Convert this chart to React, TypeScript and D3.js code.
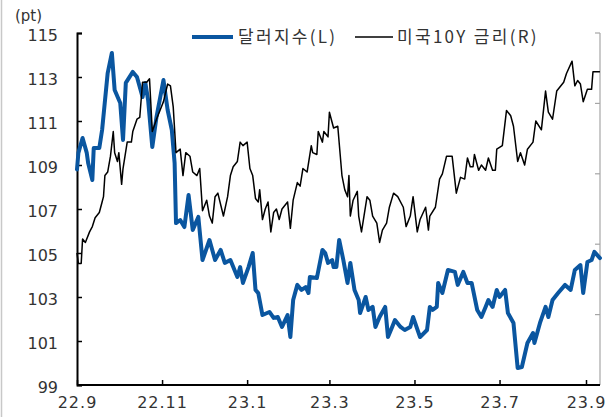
import React, { useEffect, useRef } from "react";
import * as d3 from "d3";

// days since 2022-09-01 and index values (dollar index, left axis)
const dollarDays = [
  0, 1, 4, 7, 8, 11, 12, 16, 18, 22, 25, 27, 31, 33, 35, 40, 43, 47, 49, 51, 54, 57, 62, 65, 68, 70,
  71, 74, 77, 80, 83, 87, 90, 95, 99, 103, 106, 110, 115, 117, 119, 123, 126, 128, 130, 133, 138,
  141, 144, 147, 151, 153, 155, 158, 161, 164, 166, 167, 172, 176, 178, 180, 183, 184, 186, 188, 191,
  194, 196, 199, 202, 203, 207, 209, 212, 214, 217, 221, 223, 226, 228, 232, 235, 239, 241, 245, 246,
  251, 253, 255, 258, 259, 262, 266, 271, 273, 277, 280, 283, 287, 290, 293, 295, 298, 301, 303, 307,
  309, 313, 316, 319, 323, 327, 328, 332, 336, 338, 341, 345, 350, 354, 357, 361, 363, 366, 369, 371,
  375,
];
const dollarValues = [
  108.8, 109.55, 110.23, 109.55, 109.09, 108.32, 109.77, 109.77, 110.59, 113.18, 114.09, 112.41,
  111.82, 110.14, 112.73, 113.23, 113.0, 112.09, 112.73, 111.95, 109.82, 111.18, 112.86, 111.5,
  110.59, 109.09, 106.36, 106.5, 106.18, 107.64, 106.05, 106.64, 104.68, 105.59, 104.68, 105.14,
  104.55, 104.68, 103.91, 104.36, 103.64, 104.36, 105.0, 103.32, 103.18, 102.18, 102.32, 102.05,
  102.09, 101.64, 102.18, 101.18, 102.86, 103.55, 103.32, 103.45, 103.18, 103.91, 103.86, 105.14,
  105.0, 104.55, 104.68, 104.36, 104.36, 105.59, 104.68, 103.64, 104.55, 103.32, 102.86, 102.27,
  103.0, 102.41, 102.55, 101.64, 102.09, 102.55, 101.18, 101.64, 101.95, 101.64, 101.5, 101.64,
  102.09, 101.36, 101.18, 101.5, 102.55, 102.41, 102.55, 103.64, 103.18, 104.23, 104.14, 103.55,
  104.14, 103.64, 103.64, 102.41, 102.09, 102.55, 102.86, 102.55, 103.32, 103.0, 103.32, 102.27,
  101.82, 99.77, 99.82, 100.91, 101.36, 100.91, 101.82, 102.55, 102.09, 102.86, 103.18, 103.55,
  103.32, 104.23, 104.45, 103.18, 104.59, 104.68, 105.05, 104.77,
];

// days since 2022-09-01 and US 10Y yield (right axis)
const rateDays = [
  0, 1, 3, 4, 6, 9, 11, 13, 16, 18, 19, 20, 22, 24, 26, 27, 29, 30, 32, 33, 36, 39, 40, 43, 45, 47,
  50, 52, 54, 57, 60, 62, 65, 67, 69, 71, 74, 76, 78, 81, 83, 86, 88, 90, 93, 95, 97, 99, 101, 105,
  108, 110, 112, 115, 117, 119, 122, 124, 126, 128, 130, 131, 133, 135, 137, 139, 141, 143, 145, 147,
  151, 153, 155, 158, 160, 162, 165, 168, 169, 172, 173, 176, 177, 180, 181, 184, 187, 190, 192, 194,
  195, 196, 198, 201, 202, 204, 208, 210, 212, 215, 217, 219, 222, 224, 227, 230, 234, 236, 239, 241,
  244, 246, 250, 252, 253, 257, 260, 262, 265, 269, 272, 275, 278, 280, 282, 284, 285, 288, 290, 293,
  295, 298, 300, 301, 305, 308, 311, 313, 316, 318, 321, 323, 327, 329, 333, 336, 338, 341, 344, 349,
  351, 355, 357, 359, 361, 363, 366, 369, 370, 375,
];
const rateValues = [
  3.25, 3.19, 3.19, 3.33, 3.31, 3.37, 3.4, 3.45, 3.48, 3.54, 3.57, 3.69, 3.71, 3.8, 3.94, 3.82, 3.77,
  3.82, 3.64, 3.73, 3.88, 3.88, 3.94, 4.01, 4.02, 4.22, 4.22, 4.24, 3.94, 4.01, 4.07, 4.11, 4.21, 4.2,
  4.08, 3.82, 3.84, 3.69, 3.82, 3.8, 3.71, 3.69, 3.73, 3.49, 3.55, 3.46, 3.42, 3.57, 3.59, 3.46, 3.57,
  3.69, 3.74, 3.77, 3.88, 3.86, 3.88, 3.73, 3.69, 3.56, 3.54, 3.61, 3.44, 3.5, 3.54, 3.37, 3.48, 3.5,
  3.44, 3.5, 3.54, 3.39, 3.55, 3.65, 3.63, 3.73, 3.71, 3.86, 3.82, 3.81, 3.94, 3.88, 3.94, 3.91, 4.05,
  3.96, 3.97, 3.69, 3.61, 3.57, 3.69, 3.46, 3.55, 3.6, 3.46, 3.37, 3.57, 3.55, 3.46, 3.42, 3.31, 3.38,
  3.42, 3.51, 3.59, 3.57, 3.51, 3.4, 3.46, 3.57, 3.37, 3.44, 3.51, 3.38, 3.46, 3.51, 3.67, 3.7, 3.8,
  3.8, 3.59, 3.68, 3.67, 3.79, 3.74, 3.74, 3.81, 3.72, 3.75, 3.72, 3.79, 3.72, 3.72, 3.84, 3.86, 4.06,
  4.03, 3.97, 3.77, 3.82, 3.75, 3.84, 3.88, 4.0, 3.95, 4.17, 4.05, 4.01, 4.17, 4.22, 4.27, 4.34, 4.2,
  4.23, 4.21, 4.11, 4.18, 4.18, 4.28, 4.28,
];

const leftTicks = [99, 101, 103, 105, 107, 109, 111, 113, 115];
// right-axis labels fall outside the picture, only the tick marks show
const rightTicks = [2.5, 2.9, 3.3, 3.7, 4.1, 4.5];
const monthTicks = ["2022-09-01", "2022-11-01", "2023-01-01", "2023-03-01", "2023-05-01", "2023-07-01", "2023-09-01"];
const seriesNames = ["달러지수(L)", "미국10Y 금리(R)"];

const W = 607;
const H = 417;
const NUM_FONT = "'DejaVu Sans', sans-serif";
const KR_FONT = "'Noto Sans CJK KR', sans-serif";

const App: React.FC = () => {
  const svgRef = useRef<SVGSVGElement>(null);

  useEffect(() => {
    if (!svgRef.current) return;
    const svg = d3.select(svgRef.current);
    svg.selectAll("*").remove();

    const left = 77;
    const right = 600;
    const top = 33;
    const bottom = 385;

    const start = new Date(2022, 8, 1);
    const parse = d3.timeParse("%Y-%m-%d");
    const x = d3
      .scaleTime()
      .domain([start, new Date(2023, 8, 1)])
      .range([left, 586]);
    const yL = d3.scaleLinear().domain([99, 115]).range([bottom, top]);
    const yR = d3.scaleLinear().domain([2.5, 4.5]).range([bottom, top]);

    const dollar = dollarDays.map((d, i) => ({ date: d3.timeDay.offset(start, d), value: dollarValues[i] }));
    const rate = rateDays.map((d, i) => ({ date: d3.timeDay.offset(start, d), value: rateValues[i] }));

    // frame line on the left edge
    svg.append("line").attr("x1", 1.5).attr("x2", 1.5).attr("y1", 0).attr("y2", H)
      .attr("stroke", "#c8c8c8").attr("stroke-width", 1.5);

    // right axis (gray)
    svg.append("line").attr("x1", right).attr("x2", right).attr("y1", top).attr("y2", bottom)
      .attr("stroke", "#a6a6a6").attr("stroke-width", 1.2);
    svg.append("g").selectAll("line").data(rightTicks).join("line")
      .attr("x1", right - 5).attr("x2", right)
      .attr("y1", (d) => yR(d)).attr("y2", (d) => yR(d))
      .attr("stroke", "#a6a6a6").attr("stroke-width", 1.2);

    // left axis
    const gL = svg.append("g").attr("transform", `translate(${left},0)`)
      .call(d3.axisLeft(yL).tickValues(leftTicks).tickSize(-5).tickSizeOuter(-5).tickPadding(19));
    gL.select(".domain").attr("stroke", "#000").attr("stroke-width", 2);
    gL.selectAll(".tick line").attr("stroke", "#000").attr("stroke-width", 1.5);
    gL.selectAll(".tick text").attr("font-family", NUM_FONT).attr("font-size", 16)
      .attr("dy", "0.45em").attr("fill", "#333");

    // bottom axis
    const gB = svg.append("g").attr("transform", `translate(0,${bottom})`)
      .call(
        d3.axisBottom(x)
          .tickValues(monthTicks.map((s) => parse(s) as Date))
          .tickFormat((d) => d3.timeFormat("%y")(d as Date) + "." + ((d as Date).getMonth() + 1))
          .tickSize(-5)
          .tickSizeOuter(0)
          .tickPadding(12)
      );
    gB.select(".domain").attr("stroke", "#000").attr("stroke-width", 2)
      .attr("d", `M${left},0H${right}`);
    gB.selectAll(".tick line").attr("stroke", "#000").attr("stroke-width", 1.5);
    gB.selectAll(".tick text").attr("font-family", NUM_FONT).attr("font-size", 16)
      .attr("letter-spacing", 1).attr("fill", "#333");

    svg.append("text").attr("x", 15).attr("y", 21)
      .attr("font-family", NUM_FONT).attr("font-size", 15).attr("fill", "#333").text("(pt)");

    const lineL = d3.line<{ date: Date; value: number }>()
      .x((d) => x(d.date)).y((d) => yL(d.value));
    const lineR = d3.line<{ date: Date; value: number }>()
      .x((d) => x(d.date)).y((d) => yR(d.value));

    svg.append("path").datum(dollar).attr("d", lineL)
      .attr("fill", "none").attr("stroke", "#0a56a0").attr("stroke-width", 4)
      .attr("stroke-linejoin", "round").attr("stroke-linecap", "round");
    svg.append("path").datum(rate).attr("d", lineR)
      .attr("fill", "none").attr("stroke", "#000").attr("stroke-width", 1.5)
      .attr("stroke-linejoin", "round");

    // legend
    const lg = svg.append("g").attr("font-family", KR_FONT).attr("font-size", 17)
      .attr("letter-spacing", 2.3).attr("fill", "#333");
    lg.append("line").attr("x1", 192).attr("x2", 233).attr("y1", 37).attr("y2", 37)
      .attr("stroke", "#0a56a0").attr("stroke-width", 4);
    lg.append("text").attr("x", 238).attr("y", 37).attr("dy", "0.35em").text(seriesNames[0]);
    lg.append("line").attr("x1", 355).attr("x2", 393).attr("y1", 37).attr("y2", 37)
      .attr("stroke", "#000").attr("stroke-width", 1.5);
    lg.append("text").attr("x", 397).attr("y", 37).attr("dy", "0.35em").text(seriesNames[1]);
  }, []);

  return (
    <svg
      ref={svgRef}
      width={W}
      height={H}
      style={{ position: "absolute", left: 0, top: 0, background: "#fff" }}
    />
  );
};

export default App;
